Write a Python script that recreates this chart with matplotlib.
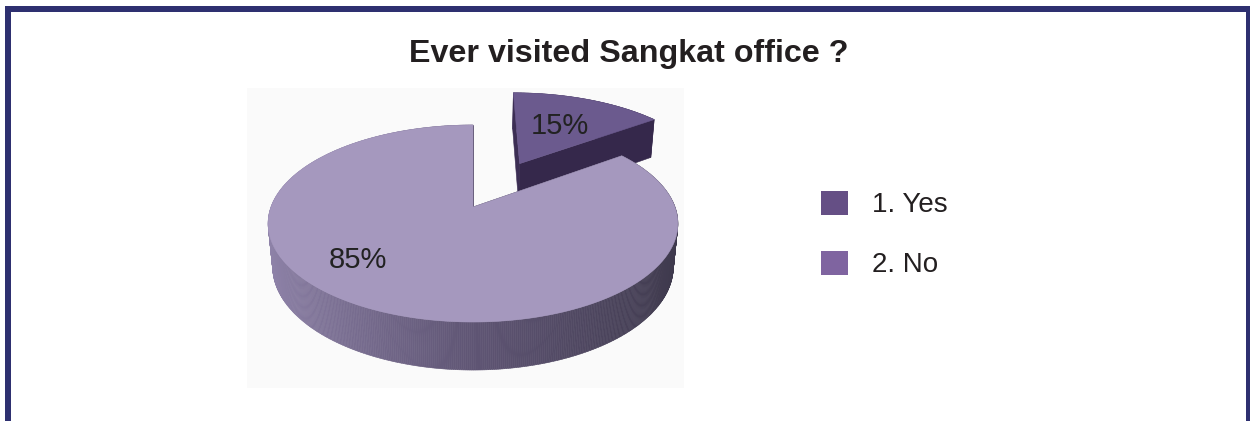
import numpy as np
import matplotlib
matplotlib.use("Agg")
import matplotlib.pyplot as plt
from matplotlib.collections import PolyCollection
from matplotlib.patches import Polygon, Patch
from matplotlib.lines import Line2D
from matplotlib.colors import LinearSegmentedColormap

# ---- data -------------------------------------------------------------
title = "Ever visited Sangkat office ?"
categories = ["1. Yes", "2. No"]
shares = [15, 85]
pct_labels = [f"{v}%" for v in shares]

# ---- style ------------------------------------------------------------
FONT = "Liberation Sans"
top_colors = ["#6b5a8e", "#a598be"]
side_cmaps = [
    LinearSegmentedColormap.from_list("yes_side", ["#4a3a66", "#35284b"]),
    LinearSegmentedColormap.from_list("no_side", ["#9084aa", "#5f5574", "#3d384b"]),
]
legend_colors = ["#654f85", "#7f64a0"]
explode = [0.55, 0.0]
label_radius = [0.55, 0.725]
label_angle = [None, 224.0]      # None -> slice mid-angle
frame_color = "#2e3070"

W, H = 1250, 421
fig = plt.figure(figsize=(W / 100, H / 100), dpi=100)
fig.patch.set_facecolor("white")

# plot area holding the 3-D pie
pa_l, pa_r, pa_t, pa_b = 247, 684, 88, 388
ax = fig.add_axes([pa_l / W, 1 - pa_b / H, (pa_r - pa_l) / W, (pa_b - pa_t) / H])
ax.set_facecolor("#fafafa")
ax.set_xticks([])
ax.set_yticks([])
for s in ax.spines.values():
    s.set_visible(False)

scale, cx, cy = 202.0, 473.0, 207.0
ax.set_xlim(-(cx - pa_l) / scale, (pa_r - cx) / scale)
ax.set_ylim(-(pa_b - cy) / scale, (cy - pa_t) / scale)

# perspective camera
sin_e = 0.474
cos_e = np.sqrt(1 - sin_e ** 2)
dist = cos_e / 0.1675
depth = 0.245


def proj(X, Y, Hh):
    w = 1 + (Y * cos_e - Hh * sin_e) / dist
    return X / w, (Y * sin_e + Hh * cos_e) / w


fracs = np.array(shares, dtype=float) / sum(shares)
start = 90.0
spans = []
acc = 0.0
for f in fracs:
    t1 = start - acc * 360
    t0 = t1 - f * 360
    spans.append((t0, t1))
    acc += f

slices = []
for i, (t0, t1) in enumerate(spans):
    mid = np.radians((t0 + t1) / 2)
    ox, oy = explode[i] * np.cos(mid), explode[i] * np.sin(mid)
    slices.append((i, t0, t1, ox, oy))

# far slices first
slices.sort(key=lambda s: -s[4])

for i, t0, t1, ox, oy in slices:
    cmap = side_cmaps[i]
    pieces = []
    ts = np.radians(np.linspace(t0, t1, int(abs(t1 - t0)) * 2 + 2))
    for a, b in zip(ts[:-1], ts[1:]):
        Xa, Ya = ox + np.cos(a), oy + np.sin(a)
        Xb, Yb = ox + np.cos(b), oy + np.sin(b)
        poly = [proj(Xa, Ya, 0), proj(Xb, Yb, 0), proj(Xb, Yb, -depth), proj(Xa, Ya, -depth)]
        xm = (np.cos(a) + np.cos(b)) / 2
        col = cmap(np.clip((xm + 1) / 2, 0, 1))
        pieces.append(((Ya + Yb) / 2, poly, col))
    for tt in (t0, t1):
        a = np.radians(tt)
        Xr, Yr = ox + np.cos(a), oy + np.sin(a)
        poly = [proj(ox, oy, 0), proj(Xr, Yr, 0), proj(Xr, Yr, -depth), proj(ox, oy, -depth)]
        col = cmap(np.clip((np.cos(a) + 1) / 2 + 0.15, 0, 1))
        pieces.append(((oy + Yr) / 2, poly, col))
    pieces.sort(key=lambda p: -p[0])
    pc = PolyCollection([p[1] for p in pieces], facecolors=[p[2] for p in pieces],
                        edgecolors=[p[2] for p in pieces], linewidths=0.4)
    ax.add_collection(pc)

    top = [proj(ox, oy, 0)] + [proj(ox + np.cos(a), oy + np.sin(a), 0) for a in ts]
    ax.add_patch(Polygon(top, closed=True, facecolor=top_colors[i],
                         edgecolor=top_colors[i], linewidth=0.4))

    ang = label_angle[i]
    if ang is None:
        ang = (t0 + t1) / 2
    a = np.radians(ang)
    lx, ly = proj(ox + label_radius[i] * np.cos(a), oy + label_radius[i] * np.sin(a), 0)
    ax.text(lx, ly, pct_labels[i], ha="center", va="center", fontsize=21,
            color="#222222", family=FONT)

# title
fig.text(629 / W, 1 - 62 / H, title, ha="center", va="baseline", fontsize=23.2,
         fontweight="bold", color="#231f20", family=FONT)

# legend
handles = [Patch(facecolor=c, edgecolor="none") for c in legend_colors]
fig.legend(handles, categories, loc="upper left", bbox_to_anchor=(821 / W, 1 - 191 / H),
           frameon=False, prop={"family": FONT, "size": 20}, handlelength=0.96,
           handleheight=0.93, handletextpad=0.86, labelspacing=1.18, borderpad=0,
           borderaxespad=0, labelcolor="#231f20")

# frame around the figure (open at the bottom)
lw = 6 * 72 / 100
fig.add_artist(Line2D([7.5 / W, 1248.5 / W], [1 - 9 / H, 1 - 9 / H], transform=fig.transFigure,
                      color=frame_color, linewidth=lw, solid_capstyle="projecting"))
fig.add_artist(Line2D([7.5 / W, 7.5 / W], [1 - 9 / H, 0], transform=fig.transFigure,
                      color=frame_color, linewidth=lw))
fig.add_artist(Line2D([1248.5 / W, 1248.5 / W], [1 - 9 / H, 0], transform=fig.transFigure,
                      color=frame_color, linewidth=lw))

fig.savefig("out.png", dpi=100, facecolor="white")
